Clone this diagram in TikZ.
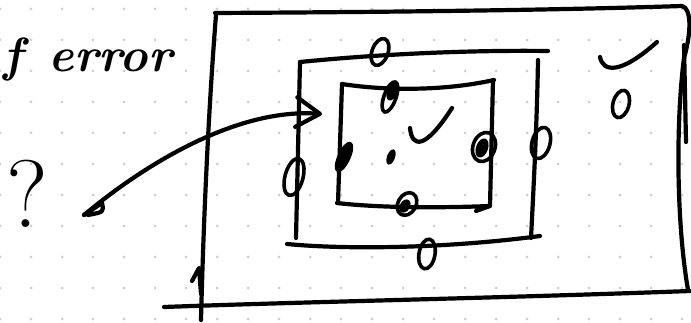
\documentclass[tikz,border=0pt]{standalone}
\usetikzlibrary{arrows.meta}

\begin{document}
\begin{tikzpicture}[
    x=1pt, y=-1pt,
    line cap=round, line join=round,
    pen/.style={line width=4.2pt},
    zero/.style={line width=3.6pt},
    blot/.style={line width=3pt, fill=black},
    griddot/.style={fill=black!20},
    scrawl/.style={inner sep=0pt, font=\fontsize{48}{48}\selectfont\bfseries\itshape},
    query/.style={inner sep=0pt, font=\fontsize{96}{96}\selectfont},
    pointer/.style={pen, -{Straight Barb[angle=64:28pt, round]}}
  ]
    \useasboundingbox (0,0) rectangle (691,323);

    % dotted paper
    \foreach \i in {0,...,22}
      \foreach \j in {0,...,10}
        \fill[griddot] (31*\i,9+31*\j) circle (1.5pt);

    % notes on the left
    \node[scrawl, anchor=base west] (title) at (3,72) {f\hspace{0.55em}error};
    \node[query, anchor=base west] (ask) at (6,228) {?};

    % outer box
    \draw[pen] (215,13) .. controls (400,12) and (560,10) .. (682,6)
        .. controls (691,8) and (692,30) .. (684,58)
        .. controls (676,120) and (676,220) .. (688,290);
    \draw[pen] (684,45) -- (686,142);
    \draw[pen] (216,15) .. controls (210,90) and (204,200) .. (201,320);
    \draw[pen] (192,281) -- (199,268) -- (201,294);
    \draw[pen] (164,307) .. controls (300,302) and (500,298) .. (690,291);

    % middle box
    \draw[pen] (300,62) .. controls (380,54) and (470,50) .. (548,51);
    \draw[pen] (300,62) -- (296,238);
    \draw[pen] (538,60) .. controls (537,120) and (534,180) .. (531,238);
    \draw[pen] (287,244) .. controls (350,250) and (450,248) .. (540,236);

    % inner box
    \draw[pen] (342,84) .. controls (380,90) and (440,92) .. (494,80);
    \draw[pen] (342,84) -- (338,203);
    \draw[pen] (493,80) -- (490,206);
    \draw[pen] (337,203) .. controls (380,208) and (440,208) .. (490,206) -- (476,211);

    % zeros on the edges
    \draw[zero] (380,52) ellipse [x radius=8, y radius=14, rotate=-20];
    \draw[zero] (390,97) ellipse [x radius=6, y radius=16, rotate=-20];
    \fill (392,92) ellipse [x radius=5, y radius=9, rotate=-20];
    \draw[blot] (344,157) ellipse [x radius=5, y radius=15, rotate=-25];
    \fill (391,157) ellipse [x radius=4, y radius=8, rotate=-20];
    \draw[zero] (484,147) ellipse [x radius=11, y radius=15, rotate=-20];
    \fill (482,148) ellipse [x radius=6, y radius=10, rotate=-20];
    \draw[zero] (407,204) ellipse [x radius=9, y radius=12, rotate=-30];
    \fill (405,206) ellipse [x radius=5, y radius=7, rotate=-30];
    \draw[zero] (294,177) ellipse [x radius=9, y radius=19, rotate=-15];
    \draw[zero] (541,143) ellipse [x radius=9, y radius=16, rotate=-15];
    \draw[zero] (427,254) ellipse [x radius=8, y radius=15, rotate=-10];
    \draw[zero] (621,104) ellipse [x radius=8, y radius=14, rotate=-15];

    % ticks
    \draw[pen] (410,128) .. controls (412,148) and (425,150) .. (452,108);
    \draw[pen] (600,57) .. controls (603,72) and (620,75) .. (657,42);

    % where the error goes
    \coordinate (from) at (84,215);
    \coordinate (into) at (322,114);
    \draw[pen] (from) -- (102,203) .. controls (104,212) .. (88,215);
    \draw[pointer] (from) .. controls (150,160) and (240,108) .. (into);
\end{tikzpicture}
\end{document}
